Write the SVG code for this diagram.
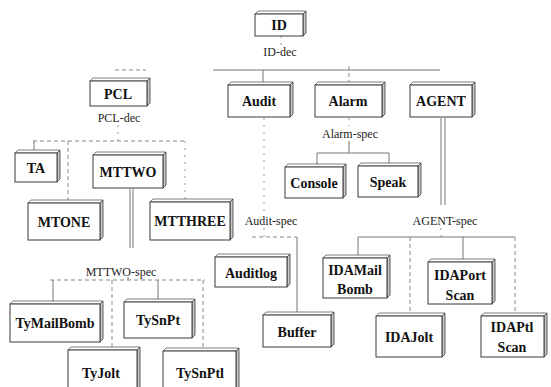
<svg xmlns="http://www.w3.org/2000/svg" width="551" height="387" viewBox="0 0 551 387">
  <style>
    .face { fill: #ffffff; stroke: #3a3a3a; stroke-width: 1; }
    .top { fill: #ffffff; stroke: #5a5a5a; stroke-width: 0.8; }
    .side { fill: #c8c8c8; stroke: #3a3a3a; stroke-width: 0.8; }
    .name { font-family: "Liberation Serif", "Times New Roman", serif; font-weight: bold; font-size: 14px; fill: #111; text-anchor: middle; }
    .tag { font-family: "Liberation Serif", "Times New Roman", serif; font-size: 12px; fill: #222; text-anchor: middle; }
    .ln { stroke: #777; stroke-width: 1; fill: none; }
    .dl { stroke: #888; stroke-width: 1; fill: none; stroke-dasharray: 4 3; }
    .dt { stroke: #999; stroke-width: 1; fill: none; stroke-dasharray: 2 5; }
  </style>
  <defs>
    <!-- 3D box shell: front face w x h drawn by each node, bevel depth 3 -->
  </defs>
  <rect width="551" height="387" fill="#ffffff"/>

  <!-- connectors -->
  <g id="connectors">
    <!-- ID-dec -->
    <line class="dt" x1="281" y1="36" x2="281" y2="45"/>
    <line class="dl" x1="115" y1="70" x2="146" y2="70"/>
    <line class="ln" x1="213" y1="70" x2="440" y2="70"/>
    <line class="ln" x1="263" y1="70" x2="263" y2="84"/>
    <line class="dl" x1="349" y1="66" x2="349" y2="84"/>
    <!-- PCL-dec -->
    <line class="dt" x1="118" y1="125" x2="118" y2="141"/>
    <line class="dl" x1="33" y1="141" x2="185" y2="141"/>
    <line class="ln" x1="34" y1="141" x2="34" y2="150"/>
    <line class="dl" x1="68" y1="141" x2="68" y2="200"/>
    <line class="dt" x1="185" y1="141" x2="185" y2="199"/>
    <!-- MTTWO-spec -->
    <line class="ln" x1="130" y1="189" x2="130" y2="248"/>
    <line class="ln" x1="133" y1="189" x2="133" y2="248"/>
    <line class="ln" x1="128" y1="277" x2="128" y2="280"/>
    <line class="dl" x1="50" y1="280" x2="205" y2="280"/>
    <line class="ln" x1="53" y1="280" x2="53" y2="301"/>
    <line class="dl" x1="112" y1="280" x2="112" y2="347"/>
    <line class="ln" x1="158" y1="280" x2="158" y2="299"/>
    <line class="dl" x1="203" y1="280" x2="203" y2="348"/>
    <!-- Audit-spec -->
    <line class="dt" x1="264" y1="118" x2="264" y2="211"/>
    <line class="dt" x1="264" y1="228" x2="264" y2="237"/>
    <line class="dl" x1="252" y1="237" x2="297" y2="237"/>
    <line class="ln" x1="297" y1="237" x2="297" y2="312"/>
    <!-- Alarm-spec -->
    <line class="dt" x1="349" y1="118" x2="349" y2="126"/>
    <line class="ln" x1="349" y1="141" x2="349" y2="153"/>
    <line class="ln" x1="317" y1="153" x2="389" y2="153"/>
    <line class="ln" x1="317" y1="153" x2="317" y2="164"/>
    <line class="ln" x1="389" y1="153" x2="389" y2="163"/>
    <!-- AGENT-spec -->
    <line class="ln" x1="441" y1="118" x2="441" y2="205"/>
    <line class="ln" x1="445" y1="118" x2="445" y2="205"/>
    <line class="dt" x1="441" y1="228" x2="441" y2="237"/>
    <line class="ln" x1="358" y1="237" x2="515" y2="237"/>
    <line class="ln" x1="358" y1="237" x2="358" y2="255"/>
    <line class="dl" x1="410" y1="237" x2="410" y2="312"/>
    <line class="ln" x1="463" y1="237" x2="463" y2="259"/>
    <line class="dl" x1="515" y1="237" x2="515" y2="313"/>
  </g>

  <!-- edge labels -->
  <g id="labels">
    <text class="tag" x="280" y="56">ID-dec</text>
    <text class="tag" x="119" y="122">PCL-dec</text>
    <text class="tag" x="350" y="138">Alarm-spec</text>
    <text class="tag" x="271" y="225">Audit-spec</text>
    <text class="tag" x="445" y="225">AGENT-spec</text>
    <text class="tag" x="121" y="276">MTTWO-spec</text>
  </g>

  <!-- nodes: front face, top bevel, right bevel, label -->
  <g id="ID">
    <polygon class="top" points="255,14 258,11 306,11 303,14"/>
    <polygon class="side" points="303,14 306,11 306,33 303,36"/>
    <rect class="face" x="255" y="14" width="48" height="22"/>
    <text class="name" x="279" y="30">ID</text>
  </g>
  <g id="PCL">
    <polygon class="top" points="90,81 93,78 150,78 147,81"/>
    <polygon class="side" points="147,81 150,78 150,103 147,106"/>
    <rect class="face" x="90" y="81" width="57" height="25"/>
    <text class="name" x="118" y="99">PCL</text>
  </g>
  <g id="Audit">
    <polygon class="top" points="228,85 231,82 293,82 290,85"/>
    <polygon class="side" points="290,85 293,82 293,114 290,117"/>
    <rect class="face" x="228" y="85" width="62" height="32"/>
    <text class="name" x="259" y="106">Audit</text>
  </g>
  <g id="Alarm">
    <polygon class="top" points="315,85 318,82 385,82 382,85"/>
    <polygon class="side" points="382,85 385,82 385,114 382,117"/>
    <rect class="face" x="315" y="85" width="67" height="32"/>
    <text class="name" x="348" y="106">Alarm</text>
  </g>
  <g id="AGENT">
    <polygon class="top" points="410,85 413,82 475,82 472,85"/>
    <polygon class="side" points="472,85 475,82 475,114 472,117"/>
    <rect class="face" x="410" y="85" width="62" height="32"/>
    <text class="name" x="441" y="106">AGENT</text>
  </g>
  <g id="TA">
    <polygon class="top" points="15,153 18,150 60,150 57,153"/>
    <polygon class="side" points="57,153 60,150 60,179 57,182"/>
    <rect class="face" x="15" y="153" width="42" height="29"/>
    <text class="name" x="36" y="173">TA</text>
  </g>
  <g id="MTTWO">
    <polygon class="top" points="93,155 96,152 166,152 163,155"/>
    <polygon class="side" points="163,155 166,152 166,185 163,188"/>
    <rect class="face" x="93" y="155" width="70" height="33"/>
    <text class="name" x="128" y="177">MTTWO</text>
  </g>
  <g id="Console">
    <polygon class="top" points="285,167 288,164 346,164 343,167"/>
    <polygon class="side" points="343,167 346,164 346,195 343,198"/>
    <rect class="face" x="285" y="167" width="58" height="31"/>
    <text class="name" x="314" y="188">Console</text>
  </g>
  <g id="Speak">
    <polygon class="top" points="358,166 361,163 421,163 418,166"/>
    <polygon class="side" points="418,166 421,163 421,194 418,197"/>
    <rect class="face" x="358" y="166" width="60" height="31"/>
    <text class="name" x="388" y="187">Speak</text>
  </g>
  <g id="MTONE">
    <polygon class="top" points="28,203 31,200 103,200 100,203"/>
    <polygon class="side" points="100,203 103,200 103,237 100,240"/>
    <rect class="face" x="28" y="203" width="72" height="37"/>
    <text class="name" x="64" y="227">MTONE</text>
  </g>
  <g id="MTTHREE">
    <polygon class="top" points="150,202 153,199 233,199 230,202"/>
    <polygon class="side" points="230,202 233,199 233,237 230,240"/>
    <rect class="face" x="150" y="202" width="80" height="38"/>
    <text class="name" x="190" y="226">MTTHREE</text>
  </g>
  <g id="Auditlog">
    <polygon class="top" points="215,257 218,254 290,254 287,257"/>
    <polygon class="side" points="287,257 290,254 290,284 287,287"/>
    <rect class="face" x="215" y="257" width="72" height="30"/>
    <text class="name" x="251" y="278">Auditlog</text>
  </g>
  <g id="IDAMailBomb">
    <polygon class="top" points="323,258 326,255 390,255 387,258"/>
    <polygon class="side" points="387,258 390,255 390,295 387,298"/>
    <rect class="face" x="323" y="258" width="64" height="40"/>
    <text class="name" x="355" y="275">IDAMail</text>
    <text class="name" x="355" y="294">Bomb</text>
  </g>
  <g id="IDAPortScan">
    <polygon class="top" points="428,262 431,259 495,259 492,262"/>
    <polygon class="side" points="492,262 495,259 495,301 492,304"/>
    <rect class="face" x="428" y="262" width="64" height="42"/>
    <text class="name" x="460" y="280">IDAPort</text>
    <text class="name" x="460" y="300">Scan</text>
  </g>
  <g id="TyMailBomb">
    <polygon class="top" points="10,304 13,301 103,301 100,304"/>
    <polygon class="side" points="100,304 103,301 103,339 100,342"/>
    <rect class="face" x="10" y="304" width="90" height="38"/>
    <text class="name" x="55" y="328">TyMailBomb</text>
  </g>
  <g id="TySnPt">
    <polygon class="top" points="124,302 127,299 195,299 192,302"/>
    <polygon class="side" points="192,302 195,299 195,335 192,338"/>
    <rect class="face" x="124" y="302" width="68" height="36"/>
    <text class="name" x="158" y="325">TySnPt</text>
  </g>
  <g id="Buffer">
    <polygon class="top" points="263,315 266,312 334,312 331,315"/>
    <polygon class="side" points="331,315 334,312 334,344 331,347"/>
    <rect class="face" x="263" y="315" width="68" height="32"/>
    <text class="name" x="297" y="337">Buffer</text>
  </g>
  <g id="IDAJolt">
    <polygon class="top" points="376,316 379,313 445,313 442,316"/>
    <polygon class="side" points="442,316 445,313 445,354 442,357"/>
    <rect class="face" x="376" y="316" width="66" height="41"/>
    <text class="name" x="409" y="342">IDAJolt</text>
  </g>
  <g id="IDAPtlScan">
    <polygon class="top" points="481,316 484,313 547,313 544,316"/>
    <polygon class="side" points="544,316 547,313 547,354 544,357"/>
    <rect class="face" x="481" y="316" width="63" height="41"/>
    <text class="name" x="512" y="332">IDAPtl</text>
    <text class="name" x="512" y="352">Scan</text>
  </g>
  <g id="TyJolt">
    <polygon class="top" points="68,350 71,347 140,347 137,350"/>
    <polygon class="side" points="137,350 140,347 140,392 137,395"/>
    <rect class="face" x="68" y="350" width="69" height="45"/>
    <text class="name" x="101" y="378">TyJolt</text>
  </g>
  <g id="TySnPtl">
    <polygon class="top" points="163,351 166,348 239,348 236,351"/>
    <polygon class="side" points="236,351 239,348 239,393 236,396"/>
    <rect class="face" x="163" y="351" width="73" height="45"/>
    <text class="name" x="200" y="378">TySnPtl</text>
  </g>
</svg>
